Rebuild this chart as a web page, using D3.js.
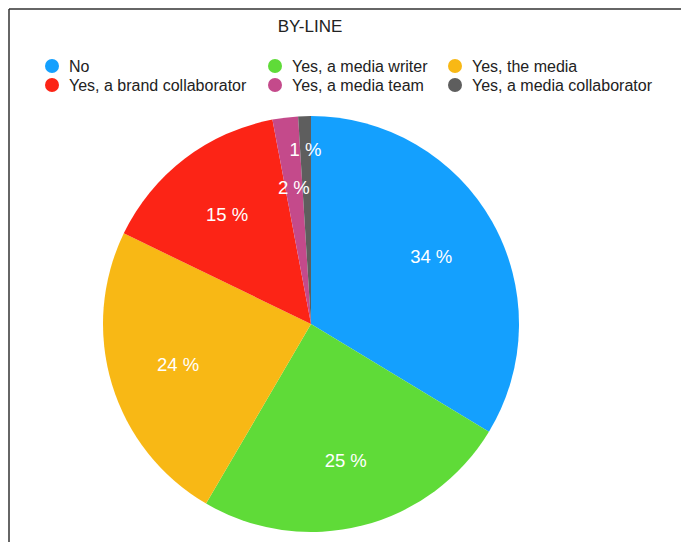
<!DOCTYPE html>
<html>
<head>
<meta charset="utf-8">
<script src="https://cdn.jsdelivr.net/npm/d3@7"></script>
<style>
  html, body { margin: 0; padding: 0; background: #fff; }
  svg { display: block; }
  text { font-family: "Liberation Sans", Arial, Helvetica, sans-serif; }
</style>
</head>
<body>
<svg id="chart" width="681" height="542"></svg>
<script>
const title = "BY-LINE";
const categories = [
  "No",
  "Yes, a media writer",
  "Yes, the media",
  "Yes, a brand collaborator",
  "Yes, a media team",
  "Yes, a media collaborator"
];
const values = [34, 25, 24, 15, 2, 1];
const colors = ["#14a0fe", "#5fdb38", "#f8b815", "#fc2416", "#c44a8b", "#5e5e5e"];
// legend is laid out row by row, three columns
const legendOrder = [0, 1, 2, 3, 4, 5];

const svg = d3.select("#chart");
const W = 681, H = 542;

// frame lines (top and left)
svg.append("line").attr("x1", 9).attr("x2", W).attr("y1", 9).attr("y2", 9)
  .attr("stroke", "#333").attr("stroke-width", 1.5);
svg.append("line").attr("x1", 9).attr("x2", 9).attr("y1", 9).attr("y2", H)
  .attr("stroke", "#333").attr("stroke-width", 1.5);

svg.append("text").attr("x", 310).attr("y", 32).attr("text-anchor", "middle")
  .attr("font-size", 17).attr("fill", "#222").text(title);

// legend
const colX = [52, 275, 455];
const rowY = [66, 85];
const legend = svg.append("g");
legendOrder.forEach((idx, i) => {
  const col = i % 3, row = Math.floor(i / 3);
  const g = legend.append("g").attr("transform", `translate(${colX[col]},${rowY[row]})`);
  g.append("circle").attr("r", 7).attr("fill", colors[idx]);
  g.append("text").attr("x", 17).attr("y", 5.5).attr("font-size", 16)
    .attr("fill", "#222").text(categories[idx]);
});

// pie
const cx = 311, cy = 324, R = 208;
const pie = d3.pie().sort(null).value(d => d)(values);
const arc = d3.arc().innerRadius(0).outerRadius(R);
const g = svg.append("g").attr("transform", `translate(${cx},${cy})`);
g.selectAll("path").data(pie).enter().append("path")
  .attr("d", arc).attr("fill", (d, i) => colors[i]);

// label radius per slice; the thinnest slice is pushed outward
const labelR = [138, 141, 139, 138, 138, 175];
g.selectAll("text.lbl").data(pie).enter().append("text")
  .attr("class", "lbl")
  .attr("transform", (d, i) => {
    const a = (d.startAngle + d.endAngle) / 2;
    return `translate(${Math.sin(a) * labelR[i]},${-Math.cos(a) * labelR[i]})`;
  })
  .attr("text-anchor", "middle").attr("dy", "0.35em")
  .attr("font-size", 18.5).attr("fill", "#fff")
  .text(d => d.data + " %");
</script>
</body>
</html>
